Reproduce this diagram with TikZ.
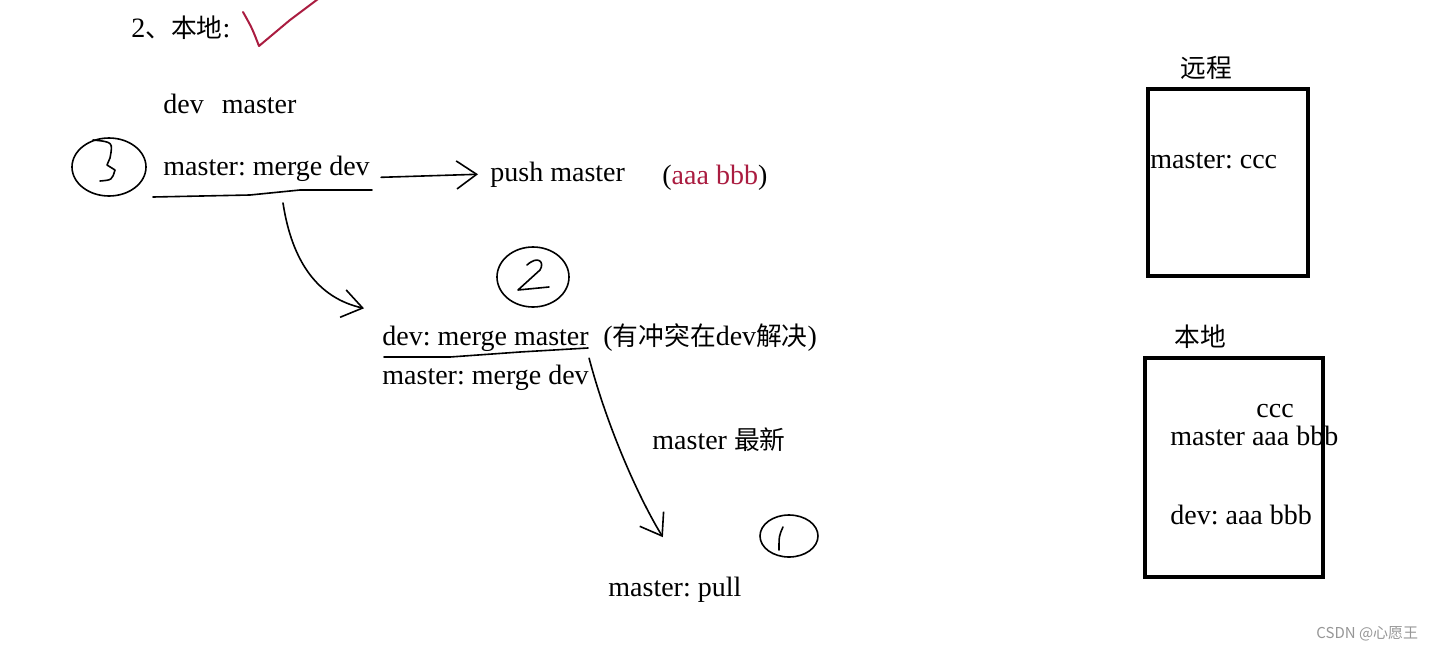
\documentclass[tikz,border=0pt]{standalone}
\usepackage{fontspec}
\setmainfont{Liberation Serif}
\newfontfamily\cjk[Scale=0.92]{Noto Sans CJK SC}
\newfontfamily\wmfont{Noto Sans CJK SC}
\usetikzlibrary{arrows.meta,shapes.geometric}
\definecolor{inkred}{RGB}{170,28,64}
\definecolor{markgray}{RGB}{150,150,150}
\frenchspacing
\begin{document}
\begin{tikzpicture}[x=.5pt,y=-.5pt,
  txt/.style={anchor=base west,inner sep=0pt,font=\fontsize{14}{17}\selectfont},
  pen/.style={line width=.8pt,line cap=round,line join=round},
  hand/.style={pen,-{Straight Barb[length=10pt,width=14pt]}},
  ring/.style={pen,draw,ellipse,inner sep=0pt},
  box/.style={draw,line width=2pt,inner sep=0pt}]
\useasboundingbox (0,0) rectangle (1430,648);
\node[txt] (title) at (131,37) {2{\cjk 、本地}:};
\draw [pen, color = inkred, line width=1pt] (243,12) .. controls (252,28) .. (259,46) -- (290,20) -- (318,-1);
\node[txt] (devmaster) at (163,113) {dev\hspace{9pt}master};
\node[txt] (mmd) at (163,175) {master: merge dev};
\node[txt] (push) at (490,181) {push master};
\node[txt] (aaabbb) at (662,184) {(\textcolor{inkred}{aaa bbb})};
\node[txt] (dmm) at (382,345) {dev: merge master};
\node[txt] (conflict) at (603,345) {({\cjk 有冲突在}dev{\cjk 解决})};
\node[txt] (mmd2) at (382,384) {master: merge dev};
\node[txt] (newest) at (652,449) {master {\cjk 最新}};
\node[txt] (pull) at (608,596) {master: pull};
% step circles
\node[ring, minimum width=37pt, minimum height=29pt] (three) at (109,167) {};
\draw [pen] (93,140) .. controls (113,142) .. (110,158) -- (107,165) -- (115,170) .. controls (112,180) .. (100,181);
\node[ring, minimum width=36pt, minimum height=30pt] (two) at (533,277) {};
\draw [pen] (527,265) .. controls (538,255) and (545,262) .. (540,270) -- (518,290) -- (549,287);
\node[ring, minimum width=29pt, minimum height=21pt] (one) at (789,536) {};
\draw [pen] (783,527) .. controls (779,536) .. (779,550);
% underlines and arrows
\draw [pen] (153,197) -- (250,195) -- (300,190) -- (372,190);
\draw [pen] (384,357) -- (450,357) -- (520,352) -- (588,348);
\coordinate (ul) at (283,203);
\draw [hand] ([shift={(5.5pt,-4.5pt)}]mmd.east) -- ([shift={(-6pt,0pt)}]push.west);
\draw [hand] (ul) .. controls (292,262) and (318,298) .. ([shift={(-9pt,15pt)}]dmm.west);
\draw [hand] ([yshift=3pt]mmd2.north east) .. controls (608,430) and (640,500) .. ([shift={(-6pt,19.5pt)}]pull.north);
% remote and local
\node[txt] (remotelbl) at (1180,77) {\cjk 远程};
\node[box, minimum width=80pt, minimum height=93.5pt] (remote) at (1228,182.5) {};
\node[txt] (rccc) at (1150,168) {master: ccc};
\node[txt] (locallbl) at (1174,346) {\cjk 本地};
\node[box, minimum width=89pt, minimum height=109.5pt] (local) at (1234,467.5) {};
\node[txt] (lccc) at (1256,417) {ccc};
\node[txt] (lmaster) at (1170,445) {master aaa bbb};
\node[txt] (ldev) at (1170,524) {dev: aaa bbb};
\node[anchor=base west, inner sep=0pt, font=\wmfont\fontsize{7.5}{9}\selectfont, text=markgray] (csdn) at (1316,638) {CSDN @心愿王};
\end{tikzpicture}
\end{document}
